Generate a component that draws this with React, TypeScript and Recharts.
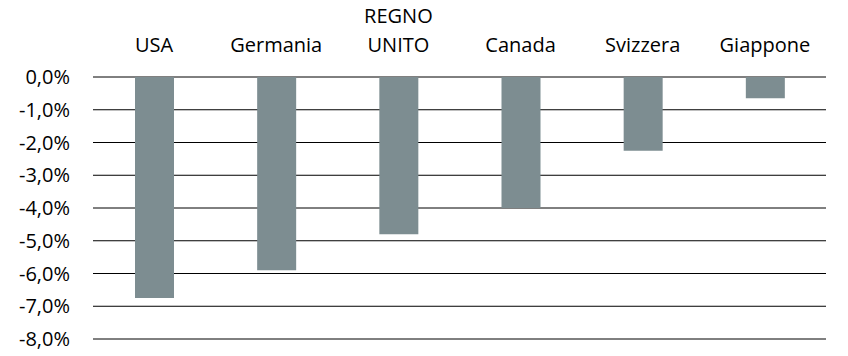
import React from 'react';
import { BarChart, Bar, XAxis, YAxis, CartesianGrid } from 'recharts';

const countries = ['USA', 'Germania', 'REGNO UNITO', 'Canada', 'Svizzera', 'Giappone'];
const values = [-6.75, -5.9, -4.8, -4.0, -2.25, -0.65];
const yTicks = [0, -1, -2, -3, -4, -5, -6, -7, -8];

const data = countries.map((name, i) => ({ name, value: values[i] }));

const FONT = '"Open Sans", sans-serif';

const formatPct = (v: number) => v.toFixed(1).replace('.', ',') + '%';

// category labels sit above the plot; long ones wrap upward
const TopTick = ({ x, y, payload }: any) => {
  const lines: string[] = payload.value === 'REGNO UNITO' ? ['REGNO', 'UNITO'] : [payload.value];
  const base = y - 25;
  return (
    <g>
      {lines.map((line, i) => (
        <text
          key={i}
          x={x}
          y={base - (lines.length - 1 - i) * 29}
          textAnchor="middle"
          fill="#000"
          fontSize={20}
          fontFamily={FONT}
        >
          {line}
        </text>
      ))}
    </g>
  );
};

export default function App() {
  return (
    <div style={{ position: 'absolute', left: 0, top: 0, background: '#fff' }}>
      <BarChart
        width={848}
        height={356}
        data={data}
        margin={{ top: 0, right: 22, left: 0, bottom: 17 }}
      >
        <CartesianGrid vertical={false} stroke="#000" strokeWidth={1} />
        <XAxis
          dataKey="name"
          orientation="top"
          height={77}
          axisLine={false}
          tickLine={false}
          tickSize={0}
          tickMargin={0}
          interval={0}
          tick={<TopTick />}
        />
        <YAxis
          domain={[-8, 0]}
          ticks={yTicks}
          width={93}
          axisLine={false}
          tickLine={false}
          tickSize={0}
          tickMargin={23}
          tickFormatter={formatPct}
          tick={{ fill: '#000', fontSize: 20, fontFamily: FONT }}
        />
        <Bar dataKey="value" fill="#7d8d91" barSize={39} isAnimationActive={false} />
      </BarChart>
    </div>
  );
}
